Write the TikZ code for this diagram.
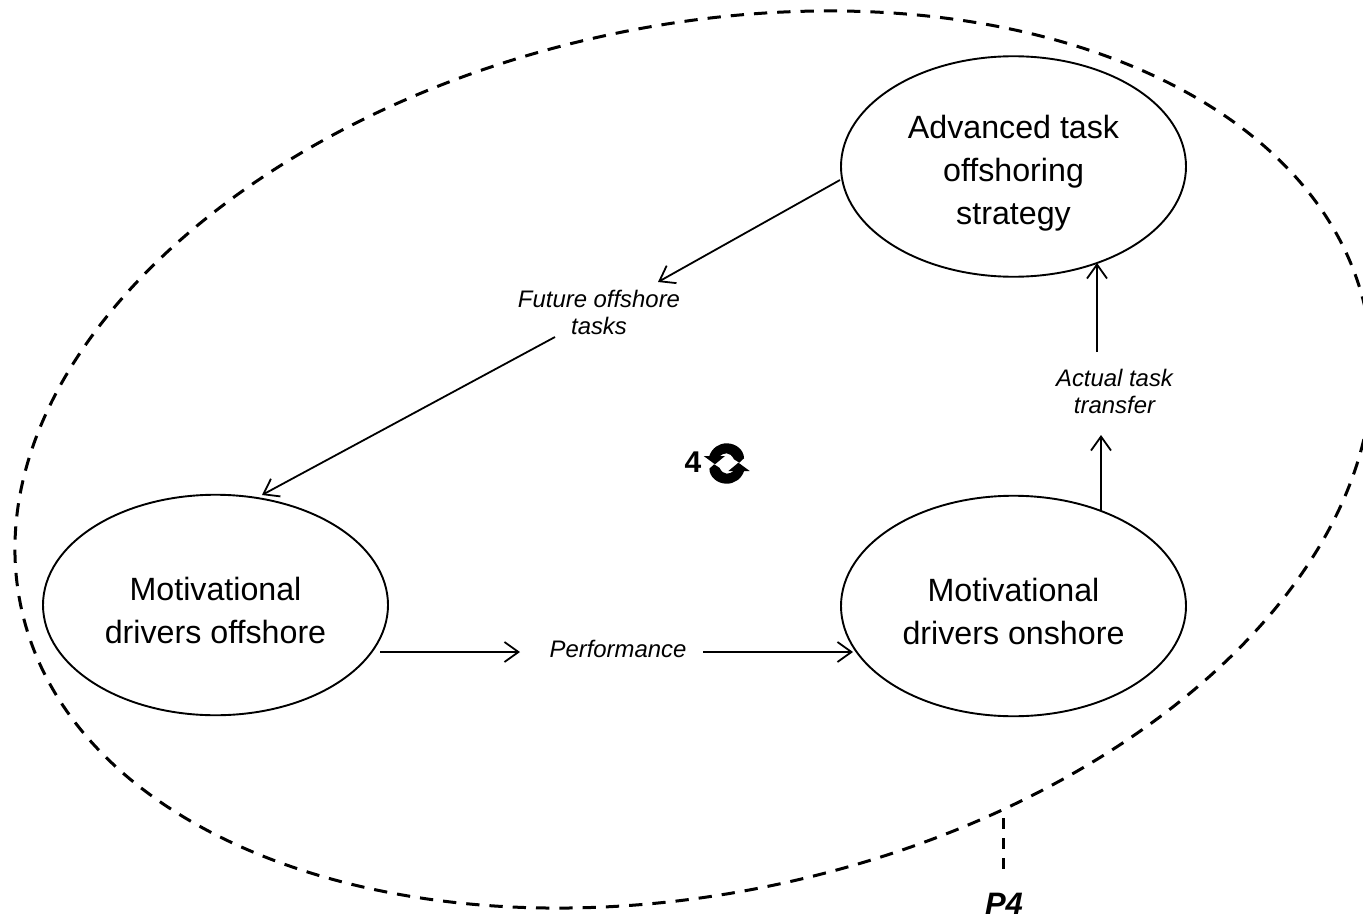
\documentclass[tikz,border=0pt]{standalone}
\usepackage{fontspec}
\setmainfont{Liberation Sans}
\usetikzlibrary{shapes.geometric,arrows.meta}
\tikzset{
  bub/.style={draw,ellipse,line width=1.9pt,minimum width=345pt,minimum height=220.5pt,inner sep=0pt},
  bubtxt/.style={align=center,inner sep=0pt,yshift=-5.5pt,font=\fontsize{32.2}{43}\selectfont},
  lab/.style={align=center,inner sep=0pt,font=\fontsize{23.9}{27}\selectfont\itshape},
  arr/.style={line width=1.8pt,-{Straight Barb[length=14pt,width=20pt,line width=1.8pt]}},
  dsh/.style={line width=3pt,dash pattern=on 13.3pt off 10pt},
  cycle shape/.style={fill=black,draw=none},
}
\begin{document}
\begin{tikzpicture}[x=1pt,y=-1pt]
\useasboundingbox (0,0) rectangle (1363,923);
\node[draw,ellipse,dsh,minimum width=1377pt,minimum height=866pt,inner sep=0pt,rotate=12.6] (outer) at (693.5,459.5) {};
\node[bub,label={[bubtxt,yshift=-1pt]center:Advanced task\\offshoring\\strategy}] (adv) at (1013.5,166.5) {};
\node[bub,label={[bubtxt]center:Motivational\\drivers offshore}] (off) at (215.5,605) {};
\node[bub,label={[bubtxt]center:Motivational\\drivers onshore}] (on) at (1013.5,606) {};
\node[lab] (fut) at (599,312) {Future offshore\\tasks};
\node[lab] (act) at (1114.5,391) {Actual task\\transfer};
\node[lab] (perf) at (618,649) {Performance};
\coordinate (futin) at (658,282);
\coordinate (futout) at (555,337);
\coordinate (offend) at (262,495);
\coordinate (actin) at (1101,435);
\coordinate (actout) at (1097,352);
\coordinate (advend) at (1097,263);
\coordinate (offstart) at (380,652);
\coordinate (perfin) at (520,652);
\coordinate (perfout) at (703,652);
\coordinate (onend) at (853,652);
\coordinate (onstart) at (1101,511);
\coordinate (advstart) at (840,180);
\draw[arr] (advstart) -- (futin);
\draw[arr] (futout) -- (offend);
\draw[arr] (offstart) -- (perfin);
\draw[arr] (perfout) -- (onend);
\draw[arr] (onstart) -- (actin);
\draw[arr] (actout) -- (advend);
\coordinate (leadtop) at (1003.5,818);
\node[inner sep=0pt,font=\fontsize{31}{31}\selectfont\bfseries\itshape] (p) at (1004,904) {P4};
\coordinate (leadend) at (1003.5,870);
\draw[line width=2.4pt,dash pattern=on 11pt off 9pt] (leadtop) -- (leadend);
\node[inner sep=0pt,font=\fontsize{30}{30}\selectfont\bfseries] (four) at (693,462) {4};
% cycle icon
\foreach \r in {0,180}{
\begin{scope}[rotate around={\r:(726.7,463.5)}]
\fill[cycle shape] (709.3,456) .. controls (712,448) and (719,443.3) .. (726.7,443.3) .. controls (736,443.3) and (744,450) .. (744,458.3) -- (739.3,462.7) -- (734,459.3) .. controls (732,455.5) and (729.5,453.3) .. (726.7,453.3) .. controls (724,453.3) and (721.5,454.5) .. (720,456) -- cycle;
\fill[cycle shape] (703.7,456) -- (725,456) -- (715,464.3) -- cycle;
\end{scope}}
\end{tikzpicture}
\end{document}
